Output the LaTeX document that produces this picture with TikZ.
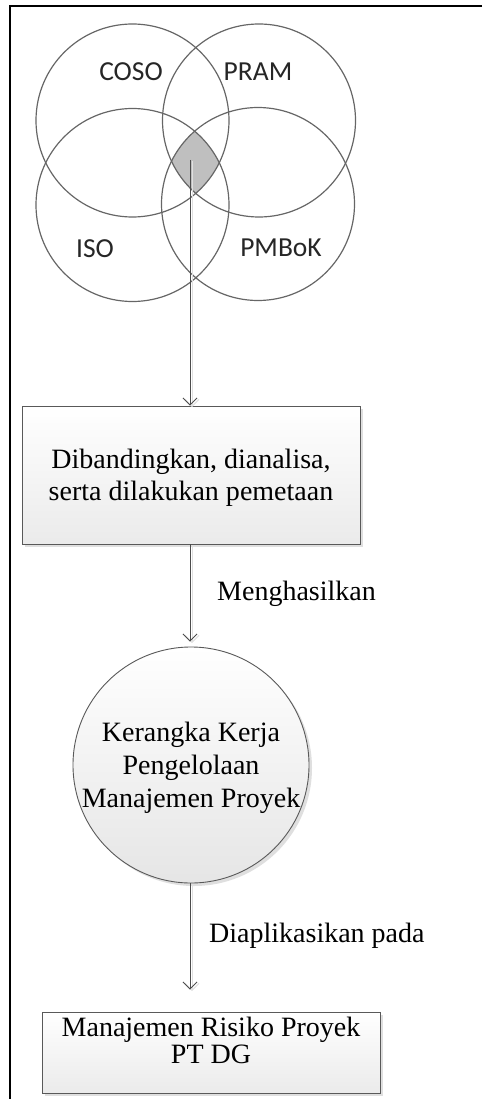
\documentclass[tikz,border=0pt]{standalone}
\usepackage{fontspec}
\setmainfont{Liberation Serif}
\newfontfamily\vennfont{Carlito}
\usetikzlibrary{arrows.meta,shadows}
\begin{document}
\begin{tikzpicture}[x=1pt,y=-1pt,
  vennc/.style={circle, draw=black!60, line width=1.2pt, minimum size=193pt, inner sep=0pt},
  vlab/.style={font=\vennfont\fontsize{27.5}{32}\selectfont, text=black!85, anchor=base, inner sep=0pt},
  boxnode/.style={draw=black!65, line width=0.9pt, top color=white, bottom color=black!8,
    align=center, inner sep=0pt,
    drop shadow={shadow xshift=3pt, shadow yshift=-3pt, fill=black!25, opacity=0.5}},
  arr/.style={draw=black!70, line width=0.8pt, -{Straight Barb[length=7pt,width=14pt]},
    preaction={draw=black!12, line width=1pt, transform canvas={xshift=2pt,yshift=-1.5pt}}},
  lab/.style={font=\fontsize{28}{32}\selectfont, anchor=base west, inner sep=0pt},
]
\useasboundingbox (0,0) rectangle (482,1099);
% frame
\draw[line width=2pt] (482,6) -- (9.7,6) -- (9.7,1099);

% Venn diagram
\coordinate (cc) at (132.5,120.5);
\coordinate (cp) at (259,120.5);
\coordinate (ci) at (132.5,205);
\coordinate (cm) at (258,204);
\begin{scope}
  \clip (cc) circle (96.5);
  \clip (cp) circle (96.5);
  \clip (ci) circle (96.5);
  \fill[black!25] (cm) circle (96.5);
\end{scope}
\node[vennc] (coso) at (cc) {};
\node[vennc] (pram) at (cp) {};
\node[vennc] (iso) at (ci) {};
\node[vennc] (pmbok) at (cm) {};
\node[vlab] (tcoso) at (131,81) {COSO};
\node[vlab] (tpram) at (258,81) {PRAM};
\node[vlab] (tiso) at (95,258) {ISO};
\node[vlab] (tpmbok) at (281,256) {PMBoK};
\coordinate (v) at (190,160);

% flow
\node[boxnode, minimum width=338pt, minimum height=138pt, text height=51pt, text depth=1pt,
  font=\fontsize{28}{32}\selectfont] (b1) at (191,475)
  {Dibandingkan, dianalisa,\\serta dilakukan pemetaan};

\node[circle, draw=black!65, line width=0.9pt, minimum size=236pt, inner sep=0pt,
  top color=white, bottom color=black!10, align=center, text height=86pt, text depth=2pt,
  font=\fontsize{28}{33}\selectfont,
  drop shadow={shadow xshift=3pt, shadow yshift=-3pt, fill=black!25, opacity=0.5}] (c2) at (191,765)
  {Kerangka Kerja\\Pengelolaan\\Manajemen Proyek};

\node[boxnode, minimum width=338pt, minimum height=81pt, text height=46pt, text depth=25pt,
  font=\fontsize{28}{27}\selectfont] (b3) at (211,1052.5)
  {Manajemen Risiko Proyek\\PT DG};

\draw[arr] (v) -- (v |- b1.north);
\draw[arr, shorten >=5pt] (v |- b1.south) -- (v |- c2.north);
\draw[arr, shorten >=22pt] (v |- c2.south) -- (v |- b3.north);

\node[lab] (l1) at (217,600) {Menghasilkan};
\node[lab] (l2) at (209,942) {Diaplikasikan pada};
\end{tikzpicture}
\end{document}
